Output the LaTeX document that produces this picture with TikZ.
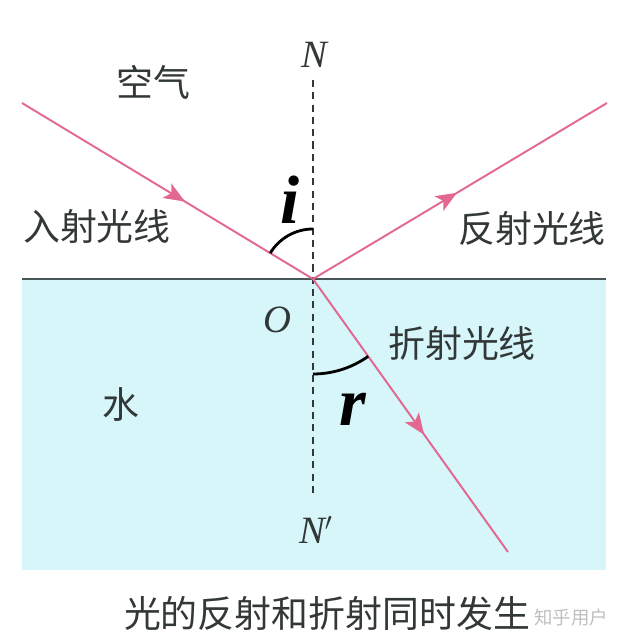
\documentclass[tikz,border=0pt]{standalone}
\usepackage{fontspec}
\newfontfamily\cjk{Noto Sans CJK SC}
\newfontfamily\serifit{Liberation Serif}
\usetikzlibrary{arrows.meta,decorations.markings}
\definecolor{raypink}{RGB}{226,104,146}
\definecolor{water}{RGB}{214,246,250}
\definecolor{surface}{RGB}{72,86,88}
\definecolor{txt}{RGB}{50,55,55}
\tikzset{
  ray/.style={raypink, line width=1.1pt, postaction={decorate},
    decoration={markings, mark=at position #1 with {\arrow{Stealth[length=4.2mm,width=3.4mm,inset=1mm]}}}},
  normalline/.style={txt, line width=0.8pt, dash pattern=on 4pt off 3pt},
  anglearc/.style={black, line width=1.6pt},
  cjklabel/.style={text=txt, font=\cjk\fontsize{21}{21}\selectfont, inner sep=0pt},
  symlabel/.style={text=txt, font=\serifit\itshape\fontsize{22}{22}\selectfont, inner sep=0pt},
  anglelabel/.style={text=black, font=\serifit\bfseries\itshape\fontsize{39}{39}\selectfont, inner sep=0pt}
}

\begin{document}
\begin{tikzpicture}[x=0.02cm, y=0.02cm]

\useasboundingbox (0,0) rectangle (625,640);

\fill[water] (22,70) rectangle (606,361);
\draw[surface, line width=1.7pt] (22,361) -- (606,361);

\coordinate (O) at (313,361);
\coordinate (A) at (22,537);
\coordinate (B) at (607,537);
\coordinate (C) at (508,88);
\coordinate (Ntop) at (313,560);
\coordinate (Nbot) at (313,145);

\draw[normalline] (Ntop) -- (Nbot);

\draw[ray=0.56] (A) -- (O);
\draw[ray=0.49] (O) -- (B);
\draw[ray=0.57] (O) -- (C);

\draw[anglearc] (O) ++(90:50) arc[start angle=90, end angle=148.8, radius=50];
\draw[anglearc] (O) ++(270:95) arc[start angle=270, end angle=305.5, radius=95];

\node[anglelabel] (ilab) at (290,440) {i};
\node[anglelabel] (rlab) at (353,231) {r};

\node[symlabel] (Nlab) at (314,585) {N};
\node[symlabel] (Olab) at (277,320) {O};
\node[symlabel] (Nplab) at (316,110) {N$'$};

\node[cjklabel] (air) at (153,558) {空气};
\node[cjklabel] (inc) at (97,414) {入射光线};
\node[cjklabel] (refl) at (532,412) {反射光线};
\node[cjklabel] (refr) at (462,297) {折射光线};
\node[cjklabel] (wat) at (121,235) {水};
\node[cjklabel] (cap) at (327,27) {光的反射和折射同时发生};
\node[text=gray!50, font=\cjk\fontsize{10.5}{10.5}\selectfont, inner sep=0pt] (wm) at (571,23) {知乎用户};

\end{tikzpicture}
\end{document}
